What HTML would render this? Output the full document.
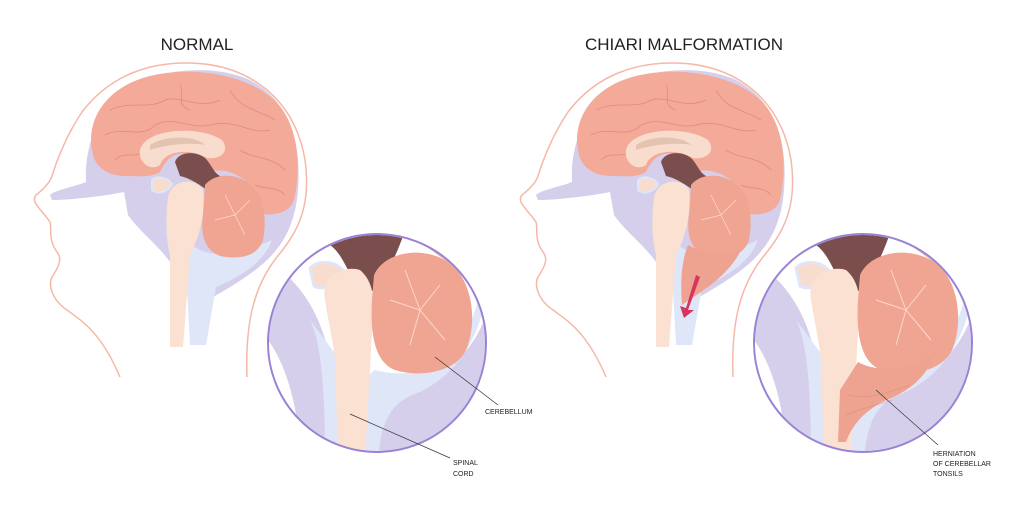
<!DOCTYPE html>
<html><head><style>
html,body{margin:0;padding:0;background:#fff;width:1024px;height:512px;overflow:hidden}
svg{display:block}
text{font-family:"Liberation Sans",sans-serif;fill:#222}
</style></head><body>
<svg width="1024" height="512" viewBox="0 0 1024 512" xmlns="http://www.w3.org/2000/svg">
<defs>
<clipPath id="cc"><circle cx="377" cy="343" r="108"/></clipPath>
<g id="head">
  <path d="M120,377 C100,330 80,320 67,310 C52,300 48,285 52,277 C60,265 62,258 57,252 C48,240 52,228 50,222 C42,210 30,202 36,195 C45,188 50,182 52,176 C60,150 70,130 82,112 C110,75 150,62 190,63 C250,64 295,100 305,160 C312,210 295,235 277,257 C255,285 245,320 247,377" fill="none" stroke="#f5b8a8" stroke-width="1.5"/>
  <path d="M50,195 C55,190 70,188 86,182 C84,150 96,110 128,88 C160,68 215,64 250,80 C288,100 302,140 298,190 C295,230 278,252 258,268 C240,282 222,292 208,300 L206,258 L170,262 C158,245 140,232 128,215 L124,192 C105,196 70,200 52,200 Z" fill="#d5cfec"/>
  <path d="M180,232 C200,262 232,258 272,240 C264,262 242,276 216,287 L206,345 L190,345 L185,252 Z" fill="#dfe6f8"/>
  <path d="M92,150 C86,118 108,86 150,76 C192,66 244,74 272,98 C298,120 302,165 294,200 C290,212 276,216 262,214 L245,180 C228,168 216,170 206,172 L200,160 C185,150 170,150 160,172 C150,178 138,176 126,176 C106,176 94,166 92,150 Z" fill="#f4aa98"/>
  <g fill="none" stroke="#d98474" stroke-width="0.8" opacity="0.8">
    <path d="M110,110 C130,100 150,110 165,100 C180,95 200,110 220,100"/>
    <path d="M105,135 C125,125 140,140 155,125 C175,115 190,130 210,125 C235,118 250,135 270,130"/>
    <path d="M230,90 C240,110 260,110 275,120"/>
    <path d="M240,150 C255,160 270,155 285,170"/>
    <path d="M115,160 C125,150 135,160 145,150"/>
    <path d="M180,85 C185,95 175,105 190,110"/>
    <path d="M255,185 C265,190 275,185 285,195"/>
  </g>
  <path d="M140,150 C145,128 200,125 222,140 C230,150 222,160 207,158 C190,148 165,150 160,165 C150,172 138,162 140,150 Z" fill="#f8dccd"/>
  <path d="M150,145 C165,135 195,135 205,145 C190,142 165,145 150,150 Z" fill="#e4c4b0"/>
  <path d="M175,162 C178,152 195,150 205,158 C212,165 213,172 220,176 L210,192 C200,185 190,178 180,176 Z" fill="#7a4e4c"/>
  <path d="M152,180 C158,175 168,178 172,184 C168,192 158,195 152,190 Z" fill="#f8dccd" stroke="#dfe6f8" stroke-width="2"/>
  <path d="M168,198 C170,180 195,176 203,190 C206,215 198,240 190,255 L183,347 L170,347 L170,255 C165,235 166,215 168,198 Z" fill="#fbe1d2"/>
  <path d="M205,185 C215,172 240,172 254,188 C266,200 266,225 263,240 C258,256 240,260 220,256 C205,250 200,235 203,215 Z" fill="#f0a592"/>
  <g fill="none" stroke="#fbd8cc" stroke-width="0.8"><path d="M215,220 L235,215 L250,200 M235,215 L245,235 M235,215 L225,195"/></g>
</g>
<g id="zoomc">
  <g clip-path="url(#cc)">
    <rect x="260" y="230" width="240" height="230" fill="#fff"/>
    <path d="M268,262 C300,280 322,315 330,360 L335,460 L300,460 C300,420 290,370 268,340 Z" fill="#d5cfec"/>
    <path d="M310,320 C320,340 325,380 325,460 L345,460 L340,360 Z" fill="#dfe6f8"/>
    <path d="M395,390 C440,385 480,350 490,300 L490,460 L360,460 Z" fill="#d5cfec"/>
    <path d="M375,370 C420,382 462,362 478,300 L488,282 C482,335 460,372 420,392 C398,400 382,410 378,460 L358,460 L362,380 Z" fill="#dfe6f8"/>
    <path d="M395,230 L500,230 L500,290 C482,295 468,282 456,268 L420,242 Z" fill="#f4aa98"/>
    <path d="M330,230 L405,230 C398,252 388,272 376,292 L356,286 C346,266 340,252 330,245 Z" fill="#7a4e4c"/>
    <path d="M310,268 C320,258 340,262 346,275 C336,282 326,292 314,286 Z" fill="#f8dccd" stroke="#dfe6f8" stroke-width="3"/>
    <path d="M325,300 C320,275 345,265 360,270 C374,282 376,302 372,332 L365,460 L338,460 L335,360 C333,340 328,320 325,300 Z" fill="#fbe1d2"/>
    <path d="M374,275 C385,250 428,245 452,265 C472,282 478,322 466,350 C456,372 420,378 395,370 C374,362 370,332 372,300 Z" fill="#f0a592"/>
    <g fill="none" stroke="#fbd8cc" stroke-width="1"><path d="M390,300 L420,310 L445,340 M420,310 L440,285 M420,310 L405,270 M420,310 L410,345"/></g>
  </g>
  <circle cx="377" cy="343" r="109" fill="none" stroke="#9a82d4" stroke-width="2"/>
</g>
</defs>

<text x="197" y="50" font-size="17" text-anchor="middle" fill="#333">NORMAL</text>
<text x="684" y="50" font-size="17" text-anchor="middle" fill="#333">CHIARI MALFORMATION</text>

<use href="#head"/>
<use href="#zoomc"/>
<use href="#head" transform="translate(486,0)"/>
<use href="#zoomc" transform="translate(486,0)"/>

<path d="M688,245 C700,252 725,256 742,248 C732,270 712,285 692,298 L682,305 C680,280 682,260 688,245 Z" fill="#eea290"/>
<path d="M696,275 L686,308 L680,306 L684,318 L694,310 L688,310 L700,277 Z" fill="#d8355e"/>
<path d="M858,362 C880,374 912,370 935,352 C926,382 902,394 882,402 C864,412 852,425 846,442 L838,442 L840,390 Z" fill="#eea290"/>
<g fill="none" stroke="#d98474" stroke-width="0.6" opacity="0.7"><path d="M848,395 C870,400 890,392 910,385 M846,415 C862,408 878,405 892,400"/></g>

<g stroke="#333" stroke-width="0.7" fill="none">
  <path d="M435,357 L498,405"/>
  <path d="M350,414 L450,458"/>
  <path d="M876,390 L938,445"/>
</g>
<text x="485" y="414" font-size="7">CEREBELLUM</text>
<text x="453" y="465" font-size="7">SPINAL</text>
<text x="453" y="476" font-size="7">CORD</text>
<text x="933" y="456" font-size="7">HERNIATION</text>
<text x="933" y="466" font-size="7">OF CEREBELLAR</text>
<text x="933" y="476" font-size="7">TONSILS</text>
</svg>
</body></html>
